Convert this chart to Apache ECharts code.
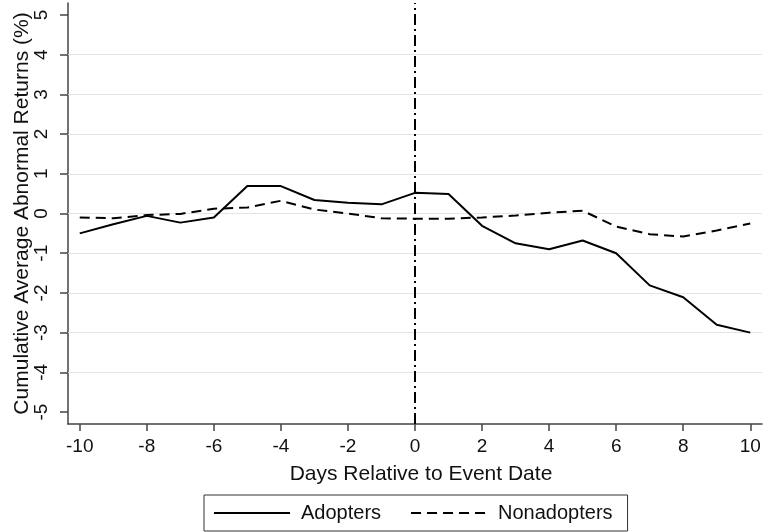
<!DOCTYPE html>
<html>
<head>
<meta charset="utf-8">
<script src="https://cdn.jsdelivr.net/npm/echarts@6/dist/echarts.min.js"></script>
<style>html,body{margin:0;padding:0;background:#fff}#c{width:764px;height:532px}</style>
</head>
<body>
<div id="c"></div>
<script>
const days = [-10,-9,-8,-7,-6,-5,-4,-3,-2,-1,0,1,2,3,4,5,6,7,8,9,10];
const adopters = [-0.50,-0.27,-0.06,-0.23,-0.10,0.69,0.69,0.34,0.27,0.23,0.52,0.49,-0.31,-0.75,-0.90,-0.68,-1.00,-1.81,-2.11,-2.80,-3.00];
const nonadopters = [-0.10,-0.12,-0.04,-0.01,0.12,0.15,0.32,0.10,0.00,-0.12,-0.13,-0.13,-0.10,-0.05,0.02,0.07,-0.33,-0.52,-0.58,-0.43,-0.25];
const xTicks = [-10,-8,-6,-4,-2,0,2,4,6,8,10];
const yTicks = [-5,-4,-3,-2,-1,0,1,2,3,4,5];
const gridValues = [-4,-3,-2,-1,0,1,2,3,4];
const eventDay = 0;

const font = 'Liberation Sans, Arial, sans-serif';
const chart = echarts.init(document.getElementById('c'));
chart.setOption({
  animation: false,
  backgroundColor: '#fff',
  grid: {left: 68, right: 2, top: 3, bottom: 108, containLabel: false, outerBoundsMode: 'none'},
  xAxis: {
    type: 'value', min: -10.35, max: 10.35,
    name: 'Days Relative to Event Date', nameLocation: 'middle', nameGap: 40,
    nameTextStyle: {fontFamily: font, fontSize: 21, color: '#111', padding: [0, 0, 0, 12]},
    axisLine: {show: true, onZero: false, lineStyle: {color: '#444', width: 1.5}},
    axisTick: {show: true, length: 7, customValues: xTicks, lineStyle: {color: '#444', width: 1.5}},
    axisLabel: {customValues: xTicks, fontFamily: font, fontSize: 19, color: '#111', margin: 13},
    splitLine: {show: false}
  },
  yAxis: {
    type: 'value', min: -5.3, max: 5.3,
    name: 'Cumulative Average Abnormal Returns (%)', nameLocation: 'middle', nameGap: 35, nameRotate: 90,
    nameMoveOverlap: false,
    nameTextStyle: {fontFamily: font, fontSize: 21, color: '#111'},
    axisLine: {show: true, onZero: false, lineStyle: {color: '#444', width: 1.5}},
    axisTick: {show: true, length: 8, customValues: yTicks, lineStyle: {color: '#444', width: 1.5}},
    axisLabel: {customValues: yTicks, rotate: 90, fontFamily: font, fontSize: 19, color: '#111', margin: 17},
    splitLine: {show: false}
  },
  legend: {
    left: 204, top: 495,
    padding: [8, 15, 8, 9],
    borderColor: '#333', borderWidth: 1,
    itemWidth: 76, itemHeight: 20, itemGap: 29,
    itemStyle: {opacity: 0},
    textStyle: {fontFamily: font, fontSize: 20, color: '#111', padding: [0, 0, 0, 6]},
    data: ['Adopters', 'Nonadopters']
  },
  series: [
    {
      name: 'Adopters', type: 'line', symbol: 'none',
      data: days.map((d, i) => [d, adopters[i]]),
      lineStyle: {color: '#000', width: 2, type: 'solid'},
      itemStyle: {color: '#000'},
      z: 5,
      markLine: {
        silent: true, symbol: 'none', label: {show: false},
        lineStyle: {color: '#e4e4e4', width: 1.2, type: 'solid'},
        data: gridValues.map(v => ({yAxis: v})),
        z: 1
      }
    },
    {
      name: 'Nonadopters', type: 'line', symbol: 'none',
      data: days.map((d, i) => [d, nonadopters[i]]),
      lineStyle: {color: '#000', width: 2, type: [10, 6]},
      itemStyle: {color: '#000'},
      z: 5,
      markLine: {
        silent: true, symbol: 'none', label: {show: false},
        lineStyle: {color: '#000', width: 2, type: [11, 4, 2, 4]},
        data: [{xAxis: eventDay}],
        z: 4
      }
    }
  ]
});
</script>
</body>
</html>
